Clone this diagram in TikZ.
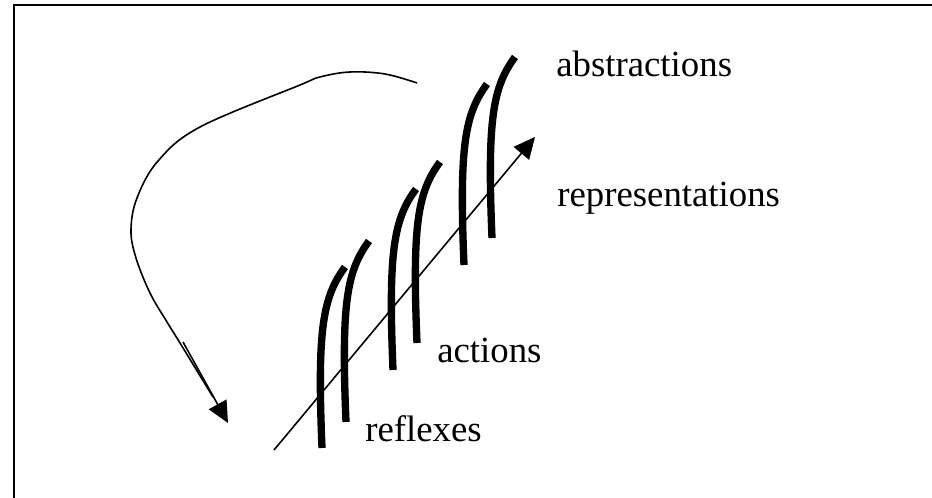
\documentclass[tikz,border=0pt]{standalone}
\usepackage{fontspec}
\setmainfont{Liberation Serif}
\usetikzlibrary{arrows.meta,positioning}

\begin{document}
\begin{tikzpicture}[x=0.75pt,y=0.75pt,>={Triangle[length=16pt,width=15pt]},
  hook/.style={line width=5.5pt},
  thinline/.style={line width=1.2pt},
  lbl/.style={anchor=base west,inner sep=0pt,font=\fontsize{27.6}{32}\selectfont}]
\useasboundingbox (0,0) rectangle (932,498);
% frame (only left and top edges show)
\draw[line width=1.5pt] (14,0) -- (14,493) -- (932,493);

% labels
\node[lbl] (abs) at (556,421) {abstractions};
\node[lbl] (rep) at (557,291) {representations};
\node[lbl] (act) at (437,135) {actions};
\node[lbl] (ref) at (365,56) {reflexes};

% hooks
\foreach \x/\y in {322/50, 346/76, 393/128, 417/155, 464/233, 492/260}
  \draw[hook] (\x,\y) .. controls +(-5,120) and +(-22,-30) .. +(23,181);

% rising arrow
\coordinate (base) at (274,48);
\coordinate (tip) at (535,361);
\draw[thinline,->] (base) -- (tip);

% loop back
\coordinate (loopstart) at (417,415);
\coordinate (loopend) at (213,101);
\coordinate (headstart) at (183,156);
\coordinate (headtip) at (228,75);
\draw[thinline] plot[smooth,tension=0.6] coordinates {(loopstart) (385,424) (350,426) (320,421) (300,413) (200,371) (158,337) (137,300) (131,268) (136,240) (150,205) (167,176) (180,155) (loopend)};
\draw[thinline,->] (headstart) -- (headtip);
\end{tikzpicture}
\end{document}
